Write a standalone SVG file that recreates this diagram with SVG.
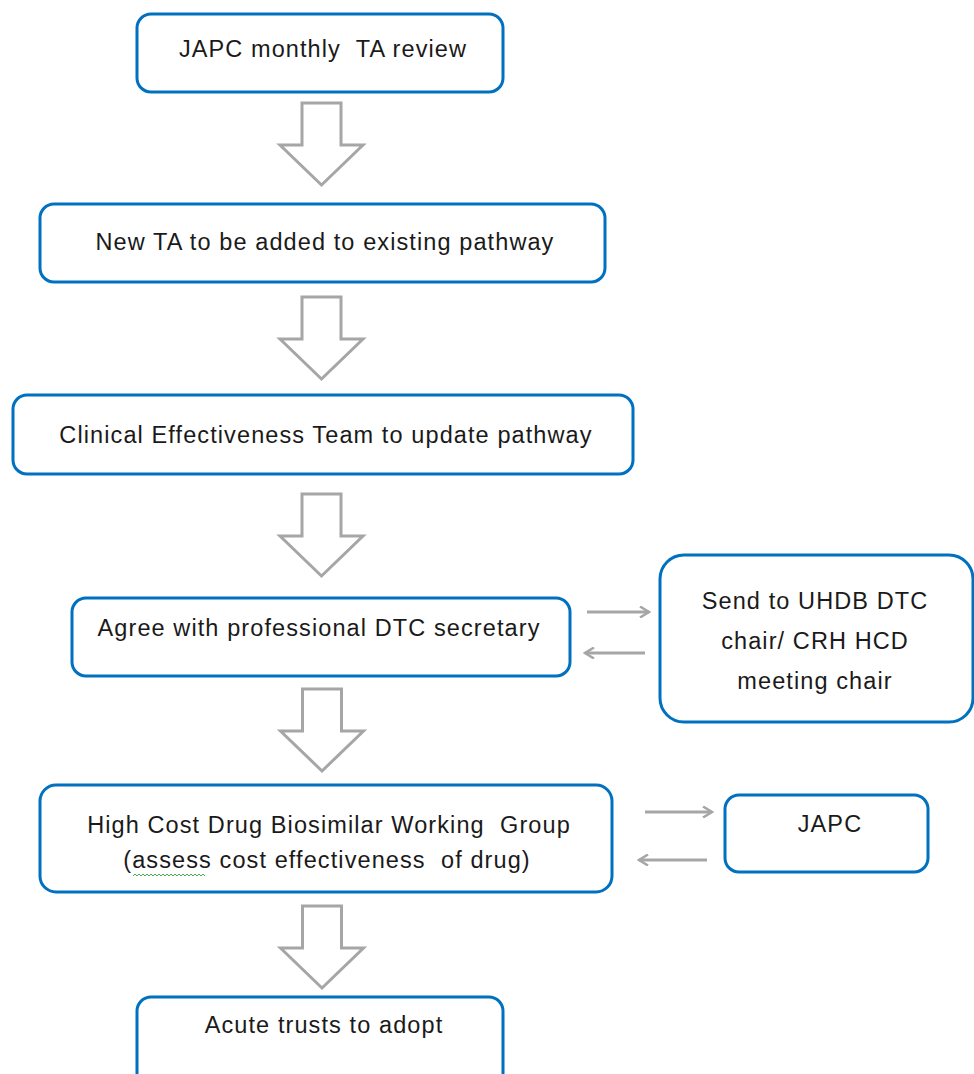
<svg xmlns="http://www.w3.org/2000/svg" width="974" height="1074" viewBox="0 0 974 1074">
<defs>
<marker id="chev" viewBox="0 0 12 12" refX="10" refY="6" markerWidth="12" markerHeight="12" markerUnits="userSpaceOnUse" orient="auto">
<polyline points="1,0.5 10,6 1,11.5" fill="none" stroke="#A6A6A6" stroke-width="2.5"/>
</marker>
<polygon id="blk" points="-19.5,0 19.5,0 19.5,42 41.5,42 0,82 -41.5,42 -19.5,42"/>
</defs>
<style>
.box{fill:#fff;stroke:#0070C0;stroke-width:3}
.t{font-family:"Liberation Sans",Arial,sans-serif;font-size:23.5px;letter-spacing:1.1px;fill:#1a1a1a;text-anchor:middle;white-space:pre}
.blk{fill:#fff;stroke:#A6A6A6;stroke-width:3;stroke-linejoin:miter}
.ln{stroke:#A6A6A6;stroke-width:3;fill:none}
</style>
<rect width="974" height="1074" fill="#fff"/>
<g id="n1"><rect class="box" x="137" y="14" width="366" height="78" rx="14"/><text class="t" x="323" y="57" xml:space="preserve">JAPC monthly  TA review</text></g>
<g id="n2"><rect class="box" x="40" y="204" width="565" height="78" rx="14"/><text class="t" x="325" y="250">New TA to be added to existing pathway</text></g>
<g id="n3"><rect class="box" x="13" y="395" width="620" height="79" rx="14"/><text class="t" x="326" y="443">Clinical Effectiveness Team to update pathway</text></g>
<g id="n4"><rect class="box" x="72" y="598" width="498" height="78" rx="14"/><text class="t" x="319" y="636">Agree with professional DTC secretary</text></g>
<g id="n5"><rect class="box" x="660" y="555" width="313" height="167" rx="24"/><text class="t" x="815" y="609">Send to UHDB DTC</text><text class="t" x="815" y="649">chair/ CRH HCD</text><text class="t" x="815" y="689">meeting chair</text></g>
<g id="n6"><rect class="box" x="40" y="785" width="572" height="107" rx="16"/><text class="t" x="329" y="833" xml:space="preserve">High Cost Drug Biosimilar Working  Group</text><text class="t" x="327" y="868" xml:space="preserve">(assess cost effectiveness  of drug)</text><path d="M133,876 l2,-2 l2,2 l2,-2 l2,2 l2,-2 l2,2 l2,-2 l2,2 l2,-2 l2,2 l2,-2 l2,2 l2,-2 l2,2 l2,-2 l2,2 l2,-2 l2,2 l2,-2 l2,2 l2,-2 l2,2 l2,-2 l2,2 l2,-2 l2,2 l2,-2 l2,2 l2,-2 l2,2 l2,-2 l2,2 l2,-2 l2,2 l2,-2 l2,2" fill="none" stroke="#4CAF50" stroke-width="1"/></g>
<g id="n7"><rect class="box" x="725" y="795" width="203" height="77" rx="14"/><text class="t" x="830" y="832">JAPC</text></g>
<g id="n8"><rect class="box" x="137" y="997" width="366" height="90" rx="14"/><text class="t" x="324" y="1033">Acute trusts to adopt</text></g>
<g id="connectors">
<use href="#blk" class="blk" x="321.5" y="103"/>
<use href="#blk" class="blk" x="321.5" y="297"/>
<use href="#blk" class="blk" x="321.5" y="494"/>
<use href="#blk" class="blk" x="322" y="689"/>
<use href="#blk" class="blk" x="322" y="906"/>
<line class="ln" x1="587" y1="612" x2="649" y2="612" marker-end="url(#chev)"/>
<line class="ln" x1="645" y1="653" x2="585" y2="653" marker-end="url(#chev)"/>
<line class="ln" x1="645" y1="812" x2="712" y2="812" marker-end="url(#chev)"/>
<line class="ln" x1="707" y1="860" x2="639" y2="860" marker-end="url(#chev)"/>
</g>
</svg>
